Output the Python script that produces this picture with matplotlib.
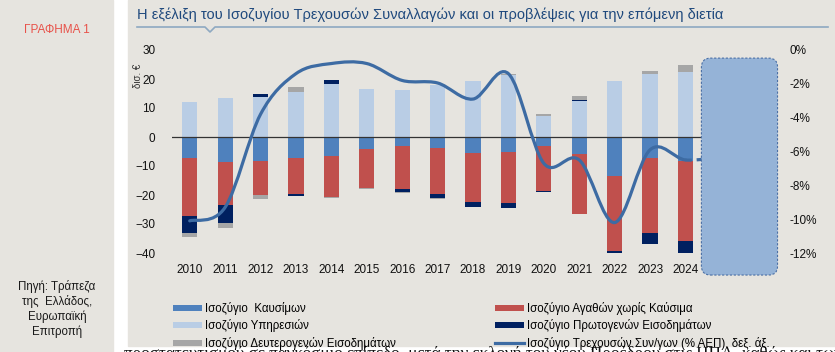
import numpy as np
import matplotlib.pyplot as plt
from matplotlib.patches import Rectangle, FancyBboxPatch, Patch
from matplotlib.lines import Line2D
from matplotlib.path import Path
from matplotlib.patches import PathPatch
from matplotlib.transforms import IdentityTransform

plt.rcParams['font.family'] = ['Liberation Sans', 'DejaVu Sans']

# data (EUR bn, left axis)
years = ['2010', '2011', '2012', '2013', '2014', '2015', '2016', '2017',
         '2018', '2019', '2020', '2021', '2022', '2023', '2024']
fuel = [-7.3, -8.5, -8.4, -7.2, -6.6, -4.3, -3.1, -3.8, -5.4, -5.2, -3.1, -5.9, -13.3, -7.1, -8.3]
goods = [-19.9, -14.9, -11.7, -12.5, -14.0, -13.4, -14.9, -16.0, -17.1, -17.7, -15.5, -20.7, -26.1, -26.1, -27.5]
services = [12.0, 13.3, 13.7, 15.6, 18.2, 16.4, 16.2, 17.9, 19.3, 21.3, 7.1, 12.5, 19.3, 21.6, 22.5]
primary = [-5.8, -6.4, 1.0, -0.5, 1.5, 0.3, -0.9, -1.1, -1.5, -1.5, -0.2, 0.4, -0.7, -3.8, -4.1]
secondary = [-1.6, -1.5, -1.2, 1.7, -0.3, -0.3, -0.4, -0.6, -0.3, 0.5, 0.7, 1.2, -0.3, 1.3, 2.3]
# current account, % of GDP (right axis); last value is the forecast hidden by the box
ca_pct = [-10.1, -9.3, -3.8, -1.4, -0.8, -0.8, -1.8, -1.95, -2.9, -1.4, -6.7, -6.5, -10.2, -5.9, -6.5]
ca_forecast = [-6.3]
forecast_years = ['2025', '2026']

bg = '#e6e4df'
c_fuel = '#4f81bd'
c_goods = '#c0504d'
c_serv = '#b9cde5'
c_prim = '#002060'
c_sec = '#a6a6a6'
c_line = '#3d6ba3'

W, H = 835, 352
fig = plt.figure(figsize=(W / 100, H / 100), dpi=100, facecolor='white')

def px(x, y):
    return x / W, 1 - y / H

# grey panels (behind the axes)
fig.patches.append(Rectangle((0, 0), 113 / W, 1, transform=fig.transFigure, color=bg, zorder=-5))
fig.patches.append(Rectangle((128 / W, 1 - 346 / H), 1, 346 / H, transform=fig.transFigure, color=bg, zorder=-5))

ax = fig.add_axes([172 / W, 1 - 253 / H, (774 - 172) / W, (253 - 50) / H])
ax.set_facecolor('none')
x = np.arange(len(years))
n_all = len(years) + len(forecast_years)

# stacked bars: positives and negatives stacked separately
series = [(fuel, c_fuel), (goods, c_goods), (services, c_serv), (primary, c_prim), (secondary, c_sec)]
pos_base = np.zeros(len(years))
neg_base = np.zeros(len(years))
for vals, col in series:
    v = np.array(vals)
    base = np.where(v >= 0, pos_base, neg_base)
    ax.bar(x, v, bottom=base, width=0.43, color=col, zorder=2)
    pos_base = np.where(v >= 0, pos_base + v, pos_base)
    neg_base = np.where(v < 0, neg_base + v, neg_base)

ax.axhline(0, xmin=0, xmax=len(years) / n_all, color='#333333', lw=0.9, zorder=3)
ax.set_xlim(-0.5, n_all - 0.5)
ax.set_ylim(-40, 30)
ax.set_yticks(np.arange(-40, 31, 10))
ax.set_xticks(x)
ax.set_xticklabels(years)
for s in ax.spines.values():
    s.set_visible(False)
ax.tick_params(axis='both', length=0, labelsize=8.5, colors='#111111')
ax.tick_params(axis='y', pad=12)
ax.tick_params(axis='x', pad=8)

# right axis: current account % GDP, smoothed line (Excel-style)
ax2 = ax.twinx()
ax2.set_ylim(-12, 0)
ax2.set_yticks(np.arange(-12, 1, 2))
ax2.set_yticklabels([f'{v}%' for v in range(-12, 1, 2)])
for s in ax2.spines.values():
    s.set_visible(False)
ax2.tick_params(axis='y', length=0, labelsize=8.5, colors='#111111', pad=11)

px_ = np.arange(len(ca_pct) + len(ca_forecast), dtype=float)
py_ = np.array(ca_pct + ca_forecast)
pts = np.column_stack([px_, py_])

def smooth_path(p, i0, i1):
    verts = [p[i0]]
    codes = [Path.MOVETO]
    for i in range(i0, i1):
        p0 = p[max(i - 1, 0)]
        p1 = p[i]
        p2 = p[i + 1]
        p3 = p[min(i + 2, len(p) - 1)]
        verts += [p1 + (p2 - p0) / 6, p2 - (p3 - p1) / 6, p2]
        codes += [Path.CURVE4] * 3
    return Path(verts, codes)

ax2.add_patch(PathPatch(smooth_path(pts, 0, len(ca_pct) - 1), fill=False, ec=c_line, lw=2.3,
                        capstyle='round', zorder=4))
ax2.add_patch(PathPatch(smooth_path(pts, len(ca_pct) - 1, len(pts) - 1), fill=False, ec=c_line, lw=2.3,
                        ls=(0, (2, 1.5)), zorder=4))

# forecast box covering 2025-2026
fig.canvas.draw()
x0, y0 = ax.transData.transform((len(years) - 0.55, -47.6))
x1, y1 = ax.transData.transform((n_all - 0.4, 27.2))
box = FancyBboxPatch((x0, y0), x1 - x0, y1 - y0, boxstyle='round,pad=0,rounding_size=9',
                     transform=IdentityTransform(), fc='#95b3d7', ec='#4a6fa5', lw=0.8, ls=(0, (2, 1.5)),
                     zorder=10)
fig.patches.append(box)

# small rotated unit label
fig.text(*px(138, 76), 'δισ. €', rotation=90, fontsize=7, color='#333333', ha='center', va='center')

# title and rule
fig.text(*px(137, 15), 'Η εξέλιξη του Ισοζυγίου Τρεχουσών Συναλλαγών και οι προβλέψεις για την επόμενη διετία',
         fontsize=10.5, color='#1f497d', ha='left', va='center')
rx = np.array([137, 205, 210, 215, 828])
ry = np.array([27, 27, 32, 27, 27])
fig.add_artist(Line2D(rx / W, 1 - ry / H, color='#8ea9c1', lw=1.2, transform=fig.transFigure))

# left panel
fig.text(*px(57, 30), 'ΓΡΑΦΗΜΑ 1', fontsize=8.5, color='#e8524a', ha='center', va='center')
fig.text(*px(57, 309), 'Πηγή: Τράπεζα\nτης  Ελλάδος,\nΕυρωπαϊκή\nΕπιτροπή', fontsize=8.3,
         color='#1a1a1a', ha='center', va='center', linespacing=1.25)

# legends
h1 = [Patch(fc=c_fuel), Patch(fc=c_serv), Patch(fc=c_sec)]
l1 = ['Ισοζύγιο  Καυσίμων', 'Ισοζύγιο Υπηρεσιών', 'Ισοζύγιο Δευτερογενών Εισοδημάτων']
h2 = [Patch(fc=c_goods), Patch(fc=c_prim), Line2D([], [], color=c_line, lw=2.3)]
l2 = ['Ισοζύγιο Αγαθών χωρίς Καύσιμα', 'Ισοζύγιο Πρωτογενών Εισοδημάτων',
      'Ισοζύγιο Τρεχουσών Συν/γων (% ΑΕΠ), δεξ. άξ.']
for hs, ls_, xl in [(h1, l1, 173), (h2, l2, 495)]:
    fig.legend(hs, ls_, loc='upper left', bbox_to_anchor=px(xl, 302), frameon=False, fontsize=8.3,
               handlelength=2.5, handleheight=0.45, handletextpad=0.25, labelspacing=0.38,
               borderpad=0, borderaxespad=0)

# body text of the page, cut off at the bottom
fig.text(*px(124, 346), 'προστατευτισμού σε παγκόσμιο επίπεδο, μετά την εκλογή του νέου Προέδρου στις ΗΠΑ, καθώς και των',
         fontsize=12.3, family='Liberation Serif', color='#111111', ha='left', va='top')

fig.savefig('out.png', dpi=100, facecolor='white')
